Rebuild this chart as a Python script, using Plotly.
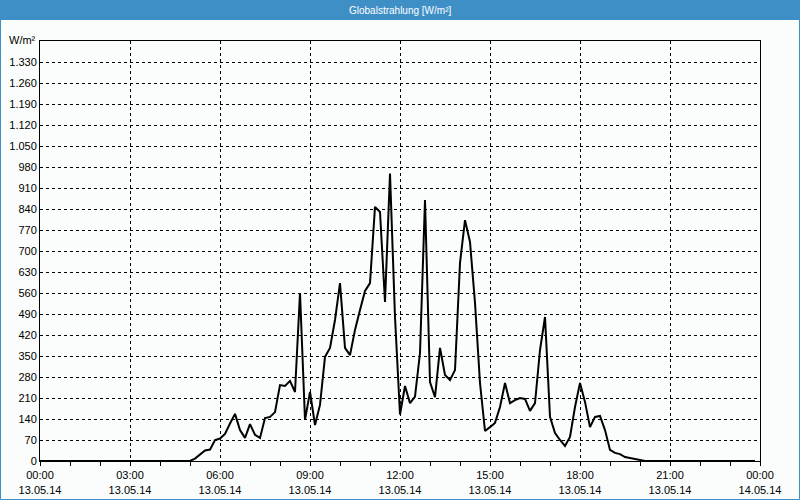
import plotly.graph_objects as go
import pandas as pd

# ---- data (10-minute values, W/m²) ----
day_start = "2014-05-13 05:00"
values = [
    0, 8, 20, 35, 38, 70, 75, 90, 125, 157, 103, 77,          # 05:00-06:50
    123, 87, 77, 143, 147, 163,                               # 07:00-07:50
    253, 250, 267, 230, 560, 137,                             # 08:00-08:50
    230, 120, 187, 347, 377, 470,                             # 09:00-09:50
    593, 377, 353, 437, 503, 567,                             # 10:00-10:50
    593, 847, 830, 530, 958, 480,                             # 11:00-11:50
    155, 250, 193, 215, 360, 870,                             # 12:00-12:50
    263, 213, 377, 287, 270, 303,                             # 13:00-13:50
    660, 803, 730, 527, 260, 100,                             # 14:00-14:50
    113, 127, 180, 260, 193, 203,                             # 15:00-15:50
    210, 207, 167, 193, 370, 480,                             # 16:00-16:50
    147, 93, 70, 50, 80, 180,                                 # 17:00-17:50
    260, 197, 113, 147, 150, 103,                             # 18:00-18:50
    37, 27, 23, 13, 10, 7,                                    # 19:00-19:50
    3,                                                        # 20:00
]
times_day = pd.date_range(day_start, periods=len(values), freq="10min")
night_before = pd.date_range("2014-05-13 00:00", "2014-05-13 04:50", freq="10min")
night_after = pd.date_range("2014-05-13 20:10", "2014-05-13 23:50", freq="10min")
times = list(night_before) + list(times_day) + list(night_after)
series = [0] * len(night_before) + values + [0] * len(night_after)

x_tick_times = pd.date_range("2014-05-13 00:00", "2014-05-14 00:00", freq="3h")
x_tick_labels = ["00:00<br>13.05.14", "03:00<br>13.05.14", "06:00<br>13.05.14",
                 "09:00<br>13.05.14", "12:00<br>13.05.14", "15:00<br>13.05.14",
                 "18:00<br>13.05.14", "21:00<br>13.05.14", "00:00<br>14.05.14"]
y_tick_vals = list(range(0, 1400, 70))
y_tick_labels = ["0", "70", "140", "210", "280", "350", "420", "490", "560", "630",
                 "700", "770", "840", "910", "980", "1.050", "1.120", "1.190",
                 "1.260", "1.330"]
title_text = "Globalstrahlung [W/m²]"
unit_text = "W/m²"

# ---- layout constants ----
W, H = 800, 500
ML, MR, MT, MB = 40, 40, 41, 39
PW, PH = W - ML - MR, H - MT - MB
BAR = 20
BLUE = "#3d8fc6"
BG = "#fafdfb"

fig = go.Figure()
fig.add_trace(go.Scatter(x=times, y=series, mode="lines",
                         line=dict(color="black", width=2), hoverinfo="skip"))

font = dict(family="Liberation Sans, Arial, sans-serif", size=11, color="black")

fig.update_layout(
    width=W, height=H,
    margin=dict(l=ML, r=MR, t=MT, b=MB, pad=0, autoexpand=False),
    paper_bgcolor=BG, plot_bgcolor=BG,
    showlegend=False,
    font=font,
    xaxis=dict(
        type="date", automargin=False,
        range=[x_tick_times[0], x_tick_times[-1]],
        tickvals=list(x_tick_times), ticktext=x_tick_labels,
        showgrid=True, gridcolor="black", gridwidth=1, griddash="3px,3px",
        showline=True, linecolor="black", linewidth=1, mirror=True,
        ticks="outside", ticklen=4, tickcolor="black",
        minor=dict(dtick=3600000, ticks="outside", ticklen=4, tickcolor="black",
                   showgrid=False),
        zeroline=False, tickfont=font,
    ),
    yaxis=dict(
        automargin=False,
        range=[0, 1400],
        tickvals=y_tick_vals, ticktext=y_tick_labels,
        showgrid=True, gridcolor="black", gridwidth=1, griddash="3px,3px",
        showline=True, linecolor="black", linewidth=1, mirror=True,
        ticks="", zeroline=False, tickfont=font,
    ),
    shapes=[
        dict(type="rect", xref="paper", yref="paper",
             x0=-ML / PW, x1=1 + MR / PW,
             y0=1 + (MT - BAR) / PH, y1=1 + MT / PH,
             fillcolor=BLUE, line=dict(width=0), layer="above"),
        dict(type="rect", xref="paper", yref="paper",
             x0=-ML / PW + 0.5 / PW, x1=1 + (MR - 0.5) / PW,
             y0=-(MB - 0.5) / PH, y1=1 + (MT - 0.5) / PH,
             fillcolor="rgba(0,0,0,0)", line=dict(color=BLUE, width=1), layer="above"),
    ],
    annotations=[
        dict(text=title_text, xref="paper", yref="paper",
             x=0.5, y=1 + (MT - BAR / 2) / PH, xanchor="center", yanchor="middle",
             showarrow=False,
             font=dict(family="Liberation Sans, sans-serif", size=10, color="white")),
        dict(text=unit_text, xref="paper", yref="paper",
             x=-2 / PW, y=1 + 1 / PH, xanchor="right", yanchor="middle",
             showarrow=False, font=font),
    ],
)

fig.write_html("out.html")
